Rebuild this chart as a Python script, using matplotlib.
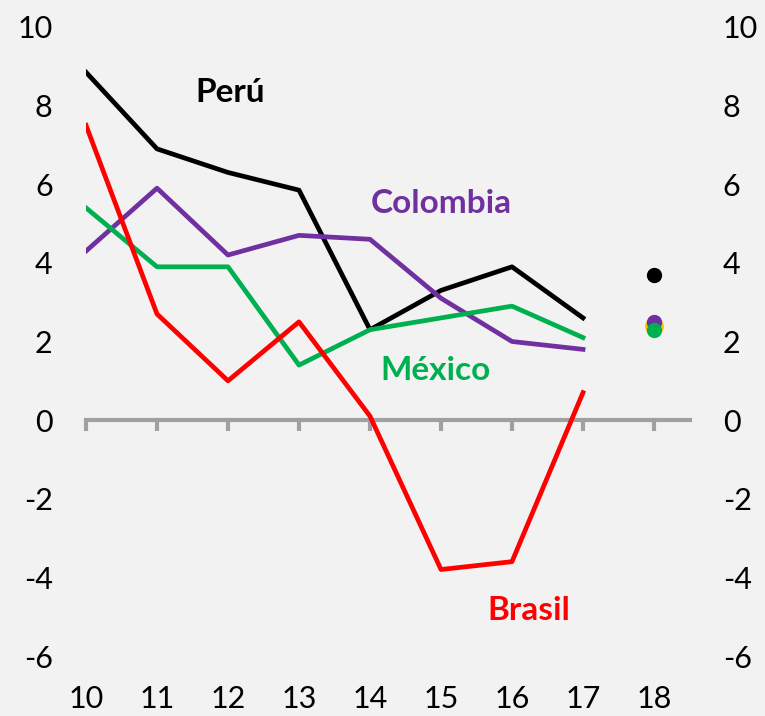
import matplotlib
matplotlib.use("Agg")
import matplotlib.pyplot as plt

plt.rcParams['font.family'] = ['Lato', 'DejaVu Sans']
plt.rcParams['axes.unicode_minus'] = False

years = [10, 11, 12, 13, 14, 15, 16, 17]
year_labels = ['10', '11', '12', '13', '14', '15', '16', '17', '18']

peru = [8.85, 6.9, 6.3, 5.85, 2.3, 3.3, 3.9, 2.6]
colombia = [4.3, 5.9, 4.2, 4.7, 4.6, 3.1, 2.0, 1.8]
mexico = [5.4, 3.9, 3.9, 1.4, 2.3, 2.6, 2.9, 2.1]
brasil = [7.5, 2.7, 1.0, 2.5, 0.1, -3.8, -3.6, 0.7]

# 2018 projections (single dots)
proj_year = 18
peru_18 = 3.7
brasil_18 = 2.4
colombia_18 = 2.5
mexico_18 = 2.3

c_peru = '#000000'
c_col = '#7030A0'
c_mex = '#00B050'
c_bra = '#FF0000'
c_gold = '#FFC000'
bg = '#F2F2F2'

fig = plt.figure(figsize=(7.65, 7.16), dpi=100, facecolor=bg)
ax = fig.add_axes([86 / 765, 60 / 716, 603.5 / 765, 629 / 716], facecolor=bg)

lw = 3.4
ax.plot(years, peru, color=c_peru, lw=lw, zorder=3)
ax.plot(years, colombia, color=c_col, lw=lw, zorder=3)
ax.plot(years, mexico, color=c_mex, lw=lw, zorder=3)
ax.plot(years, brasil, color=c_bra, lw=lw, zorder=4)

ax.plot(proj_year, peru_18, 'o', color=c_peru, ms=10, zorder=5)
ax.plot(proj_year, brasil_18, 'o', color=c_gold, ms=12.5, zorder=5)
ax.plot(proj_year, colombia_18, 'o', color=c_col, ms=10, zorder=6)
ax.plot(proj_year, mexico_18, 'o', color=c_mex, ms=10, zorder=7)

ax.set_xlim(10, 18.5)
ax.set_ylim(-6, 10)
ax.set_yticks(range(-6, 11, 2))

for s in ['top', 'right', 'left']:
    ax.spines[s].set_visible(False)
ax.spines['bottom'].set_position(('data', 0))
ax.spines['bottom'].set_color('#A0A0A0')
ax.spines['bottom'].set_linewidth(3)
ax.spines['bottom'].set_zorder(2)

ax.set_xticks(range(10, 19))
ax.tick_params(axis='x', direction='out', length=8, width=3, color='#A0A0A0', labelbottom=False)
ax.tick_params(axis='y', length=0, labelsize=22, labelleft=True, labelright=True, pad=24)

for x, lab in zip(range(10, 19), year_labels):
    ax.text(x, -0.068, lab, transform=ax.get_xaxis_transform(), ha='center', va='center',
            fontsize=22, clip_on=False)

lab_kw = dict(fontsize=24, fontweight='bold', ha='center', va='center')
ax.text(12.03, 8.34, 'Perú', color=c_peru, **lab_kw)
ax.text(15.0, 5.52, 'Colombia', color=c_col, **lab_kw)
ax.text(14.92, 1.25, 'México', color=c_mex, **lab_kw)
ax.text(16.24, -4.83, 'Brasil', color=c_bra, **lab_kw)

fig.savefig('out.png', dpi=100, facecolor=bg)
